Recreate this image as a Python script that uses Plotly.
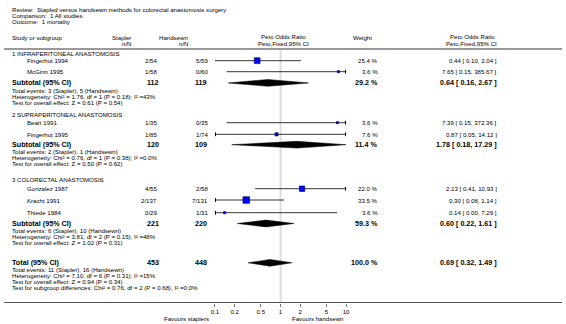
import plotly.graph_objects as go

# ---------------- data ----------------
title_lines = ["Review:  Stapled versus handsewn methods for colorectal anastomosis surgery",
               "Comparison:  1 All studies",
               "Outcome:  1 mortality"]

group_names = ["1 INFRAPERITONEAL ANASTOMOSIS",
               "2 SUPRAPERITONEAL ANASTOMOSIS",
               "3 COLORECTAL ANASTOMOSIS"]

study_names = [["Fingerhut 1994", "McGinn 1995"],
               ["Beart 1991", "Fingerhut 1995"],
               ["Gonzalez 1987", "Kracht 1991", "Thiede 1984"]]
stapler_nN = [["2/54", "1/58"], ["1/35", "1/85"], ["4/55", "2/137", "0/29"]]
handsewn_nN = [["5/59", "0/60"], ["0/35", "1/74"], ["2/58", "7/131", "1/31"]]
study_weight = [[25.4, 3.6], [3.6, 7.6], [22.0, 33.5, 3.6]]
study_or = [[0.44, 7.65], [7.39, 0.87], [2.13, 0.30, 0.14]]
study_lo = [[0.10, 0.15], [0.15, 0.05], [0.41, 0.08, 0.00]]
study_hi = [[2.04, 385.67], [372.36, 14.12], [10.93, 1.14, 7.29]]

sub_stapler_N = [112, 120, 221]
sub_handsewn_N = [119, 109, 220]
sub_weight = [29.2, 11.4, 59.3]
sub_or = [0.64, 1.78, 0.60]
sub_lo = [0.16, 0.18, 0.22]
sub_hi = [2.67, 17.29, 1.61]
sub_text = [
    ["Total events: 3 (Stapler), 5 (Handsewn)",
     "Heterogeneity: Chi² = 1.76, df = 1 (P = 0.18); I² =43%",
     "Test for overall effect: Z = 0.61 (P = 0.54)"],
    ["Total events: 2 (Stapler), 1 (Handsewn)",
     "Heterogeneity: Chi² = 0.76, df = 1 (P = 0.38); I² =0.0%",
     "Test for overall effect: Z = 0.50 (P = 0.62)"],
    ["Total events: 6 (Stapler), 10 (Handsewn)",
     "Heterogeneity: Chi² = 3.81, df = 2 (P = 0.15); I² =48%",
     "Test for overall effect: Z = 1.02 (P = 0.31)"],
]

total_stapler_N = 453
total_handsewn_N = 448
total_weight = 100.0
total_or = 0.69
total_lo = 0.32
total_hi = 1.49
total_text = ["Total events: 11 (Stapler), 16 (Handsewn)",
              "Heterogeneity: Chi² = 7.10, df = 6 (P = 0.31); I² =15%",
              "Test for overall effect: Z = 0.94 (P = 0.34)",
              "Test for subgroup differences: Chi² = 0.76, df = 2 (P = 0.68), I² =0.0%"]

tick_vals = [0.1, 0.2, 0.5, 1, 2, 5, 10]
tick_text = ["0.1", "0.2", "0.5", "1", "2", "5", "10"]
favours_left = "Favours staplers"
favours_right = "Favours handsewn"

# ---------------- layout (pixel rows) ----------------
W, H = 566, 324
AXIS_Y = 302.5
FONT = "Liberation Sans, Arial, sans-serif"
SMALL = 6.1
BOLD = 7.2
XMIN, XMAX = 0.1, 10
PLOT_L, PLOT_R = 214, 347

group_header_y = [53.5, 114, 179]
study_y = [[60.7, 71.7], [122.7, 134.3], [188.7, 200, 212.7]]
sub_y = [82.9, 144.7, 223.5]
total_y = 262.8
LINE = 6.0

fig = go.Figure()
ann = []


def px(x):
    return x / W


def py(y):
    return 1 - y / H


def txt(x, y, s, anchor="left", size=SMALL, bold=False, color="#000"):
    ann.append(dict(x=px(x), y=py(y), xref="paper", yref="paper", text=("<b>%s</b>" % s) if bold else s,
                    showarrow=False, xanchor=anchor, yanchor="middle", borderpad=0, borderwidth=0,
                    font=dict(family=FONT, size=size, color=color)))


# titles
for i, t in enumerate(title_lines):
    txt(8, 9.5 + i * 6.0, t)

# headers
txt(8, 38, "Study or subgroup")
txt(129, 38, "Stapler", "right")
txt(129, 44, "n/N", "right")
txt(187, 38, "Handsewn", "right")
txt(187, 44, "n/N", "right")
txt(284, 37, "Peto Odds Ratio", "center")
txt(284, 43, "Peto,Fixed,95% CI", "center")
txt(373, 38, "Weight", "right")
txt(475, 37, "Peto Odds Ratio", "center")
txt(474, 43, "Peto,Fixed,95% CI", "center")


def fmt_ci(o, l, h):
    return "%.2f [ %.2f, %.2f ]" % (o, l, h)


shapes = [
    dict(type="line", xref="paper", yref="paper", x0=0, x1=1, y0=py(49), y1=py(49),
         line=dict(color="#9a9a9a", width=2)),
    dict(type="line", xref="x", yref="y", x0=1, x1=1, y0=50, y1=AXIS_Y,
         line=dict(color="#dcdcdc", width=2), layer="below"),
    dict(type="line", xref="paper", yref="paper", x0=0, x1=1, y0=py(AXIS_Y), y1=py(AXIS_Y),
         line=dict(color="#555555", width=1)),
]


def clip(v):
    return min(max(v, XMIN), XMAX)


def diamond(o, l, h, yc):
    fig.add_trace(go.Scatter(x=[clip(l), o, clip(h), o, clip(l)],
                             y=[yc, yc - 3.4, yc, yc + 3.4, yc],
                             mode="lines", fill="toself", fillcolor="#000",
                             line=dict(color="#000", width=0.5), hoverinfo="skip"))


for g in range(3):
    txt(8, group_header_y[g], group_names[g])
    for k, name in enumerate(study_names[g]):
        y = study_y[g][k]
        txt(23, y, name)
        txt(155, y, stapler_nN[g][k], "right")
        txt(207, y, handsewn_nN[g][k], "right")
        txt(379, y, "%.1f %%" % study_weight[g][k], "right")
        txt(500, y, fmt_ci(study_or[g][k], study_lo[g][k], study_hi[g][k]), "right")
        lo, hi, o = study_lo[g][k], study_hi[g][k], study_or[g][k]
        fig.add_trace(go.Scatter(x=[clip(lo), clip(hi)], y=[y, y], mode="lines",
                                 line=dict(color="#000", width=0.8), hoverinfo="skip"))
        if hi > XMAX:
            fig.add_trace(go.Scatter(x=[XMAX], y=[y], mode="markers",
                                     marker=dict(symbol="triangle-right", size=4, color="#000"),
                                     hoverinfo="skip"))
        if lo < XMIN:
            fig.add_trace(go.Scatter(x=[XMIN], y=[y], mode="markers",
                                     marker=dict(symbol="triangle-left", size=4, color="#000"),
                                     hoverinfo="skip"))
        sz = max(1.15 * study_weight[g][k] ** 0.5, 2)
        fig.add_trace(go.Scatter(x=[o], y=[y], mode="markers",
                                 marker=dict(symbol="square", size=sz, color="#0000ff",
                                             line=dict(color="#000040", width=0.6)),
                                 hoverinfo="skip"))
    ys = sub_y[g]
    txt(8, ys, "Subtotal (95% CI)", bold=True, size=BOLD)
    txt(157, ys, str(sub_stapler_N[g]), "right", BOLD, True)
    txt(206, ys, str(sub_handsewn_N[g]), "right", BOLD, True)
    txt(379, ys, "%.1f %%" % sub_weight[g], "right", BOLD, True)
    txt(500, ys, fmt_ci(sub_or[g], sub_lo[g], sub_hi[g]), "right", BOLD, True)
    diamond(sub_or[g], sub_lo[g], sub_hi[g], ys)
    for j, t in enumerate(sub_text[g]):
        txt(8, ys + 1.1 + LINE * (j + 1), t)

txt(8, total_y, "Total (95% CI)", bold=True, size=BOLD)
txt(157, total_y, str(total_stapler_N), "right", BOLD, True)
txt(206, total_y, str(total_handsewn_N), "right", BOLD, True)
txt(379, total_y, "%.1f %%" % total_weight, "right", BOLD, True)
txt(500, total_y, fmt_ci(total_or, total_lo, total_hi), "right", BOLD, True)
diamond(total_or, total_lo, total_hi, total_y)
for j, t in enumerate(total_text):
    txt(8, total_y + 0.8 + LINE * (j + 1), t)

txt(208, 318.5, favours_left, "right")
txt(292, 318.5, favours_right, "left")

fig.update_layout(
    width=W, height=H, margin=dict(l=0, r=0, t=0, b=0),
    paper_bgcolor="white", plot_bgcolor="white", showlegend=False,
    annotations=ann, shapes=shapes,
    xaxis=dict(type="log", range=[-1, 1], domain=[PLOT_L / W, PLOT_R / W],
               tickvals=tick_vals, ticktext=tick_text, ticks="outside", ticklen=3,
               tickcolor="#555", tickwidth=0.8,
               tickfont=dict(family=FONT, size=SMALL, color="#000"),
               showgrid=False, zeroline=False, showline=False, fixedrange=True),
    yaxis=dict(range=[AXIS_Y, 0], domain=[(H - AXIS_Y) / H, 1], visible=False, fixedrange=True),
)

fig.write_html("out.html", config={"staticPlot": True},
               post_script="document.body.style.margin='0';document.body.style.overflow='hidden';")
